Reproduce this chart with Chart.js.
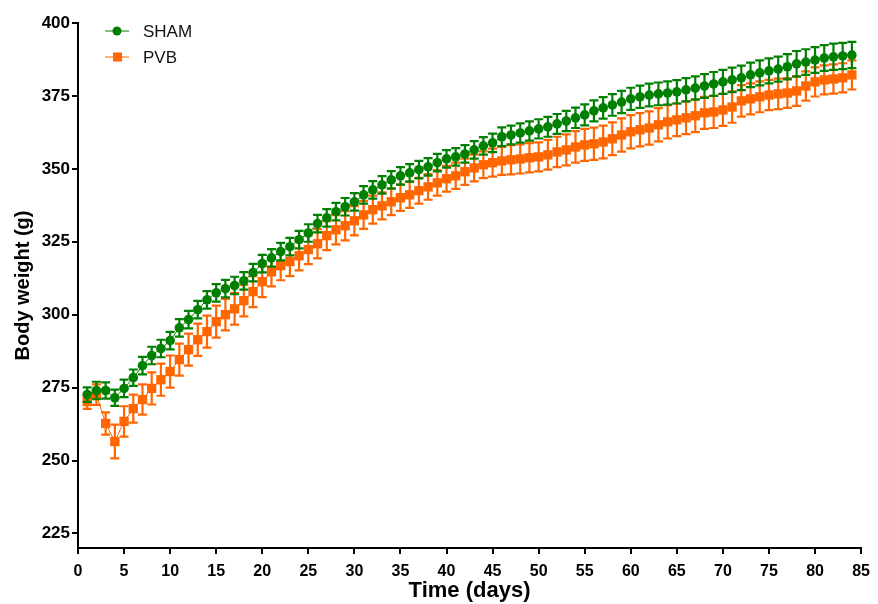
<!DOCTYPE html>
<html>
<head>
<meta charset="utf-8">
<script src="https://cdn.jsdelivr.net/npm/chart.js@4.4.1/dist/chart.umd.min.js"></script>
<style>
  html, body { margin: 0; padding: 0; background: #fff; }
  #wrap { position: relative; width: 878px; height: 604px; }
</style>
</head>
<body>
<div id="wrap"><canvas id="mycanvas" width="878" height="604"></canvas></div>
<script>
// days of measurement
var days = [1,2,3,4,5,6,7,8,9,10,11,12,13,14,15,16,17,18,19,20,
	21,22,23,24,25,26,27,28,29,30,31,32,33,34,35,36,37,38,39,40,
	41,42,43,44,45,46,47,48,49,50,51,52,53,54,55,56,57,58,59,60,
	61,62,63,64,65,66,67,68,69,70,71,72,73,74,75,76,77,78,79,80,
	81,82,83,84];

var shamMean = [272.6,274,274,271.5,274.7,278.4,282.5,286,288.4,291.1,
	295.5,298.3,301.7,305.1,307.5,308.9,310,311.6,314.4,317.5,
	319.5,321.6,323.3,325.7,328,331.2,333.2,335.3,337,338.7,
	341.1,342.8,344.5,346.2,347.6,348.6,349.7,350.7,352.1,353.4,
	354.1,355.1,356.5,357.9,358.9,361,361.6,362.3,363,363.7,
	364.4,365.4,366.4,367.5,368.5,369.9,370.9,371.9,372.9,374,
	374.7,375.3,375.7,376,376.4,377.1,377.7,378.4,379.1,379.8,
	380.5,381.2,382.2,382.9,383.6,384.2,385,386,386.6,387.3,
	388,388.4,388.7,389];

var shamErr = [2.5,3,2.8,2.8,3,2.8,3,3,3,3,
	3,3,3,3,3,3,3,3,3,3,
	3,3,3,3,3,3,3,3,3,3,
	3,3,3,3,3,3,3,3,3,3,
	3,3,3,3,3.2,3.2,3.2,3.3,3.3,3.3,
	3.4,3.4,3.5,3.5,3.6,3.6,3.7,3.7,3.8,3.8,
	3.8,3.9,3.9,4,4,4,4,4.1,4.1,4.1,
	4.2,4.2,4.2,4.3,4.3,4.3,4.3,4.4,4.4,4.4,
	4.4,4.5,4.5,4.5];

var pvbMean = [270.2,272.6,262.7,256.5,263.4,267.8,270.9,274.7,277.7,280.5,
	284.6,288,291.4,294.2,297.6,300,302,304.8,307.9,311.3,
	314.7,316.8,318.2,320.2,322.3,324.3,327.1,329.1,330.5,332.2,
	334.2,336,337.3,338.7,340.1,341.1,342.5,343.8,345.2,346.6,
	347.6,349,350.3,351.4,352.1,352.7,353.1,353.4,353.8,354.1,
	354.8,355.8,356.5,357.5,358.2,358.6,359.2,360.3,361.6,362.7,
	363.4,364,365.1,366.1,366.8,367.5,368.2,369.2,369.5,370.2,
	371.2,373.3,374,374.7,375.3,375.7,376,376.7,378.4,379.8,
	380.5,380.8,381.2,382.2];

var pvbErr = [2.5,3.5,3.8,5.8,5.2,4.8,5.2,5.5,5.5,5.5,
	5.5,5.5,5.5,5.5,5.5,5.4,5.4,5.4,5.3,5.3,
	5,5,5,5,5,5,5,5,5,5,
	4.8,4.8,4.6,4.6,4.5,4.5,4.4,4.4,4.4,4.4,
	4.5,4.5,4.6,4.6,4.8,4.8,5,5,5,5,
	5.1,5.2,5.3,5.4,5.5,5.5,5.6,5.6,5.7,5.7,
	5.7,5.7,5.7,5.7,5.6,5.6,5.6,5.5,5.5,5.5,
	5.4,5.4,5.3,5.3,5.2,5.2,5.1,5.1,5,5,
	5,5,5,5];

var yTicks = [225,250,275,300,325,350,375,400];

var GREEN = '#008000';
var ORANGE = '#ff6600';
var FONT = 'Liberation Sans, Arial, Helvetica, sans-serif';

function toPoints(xs, ys) {
	var out = [];
	for (var i = 0; i < xs.length; i++) {
		out.push({x: xs[i], y: ys[i]});
	}
	return out;
}

// draws SEM bars under each dataset's markers
var errorBars = {
	id: 'errorBars',
	beforeDatasetDraw: function(chart, args) {
		var ds = chart.data.datasets[args.index];
		if (!ds.errors) return;
		var ctx = chart.ctx;
		var ys = chart.scales.y;
		var meta = args.meta;
		ctx.save();
		ctx.strokeStyle = ds.borderColor;
		ctx.lineWidth = 2.2;
		for (var i = 0; i < meta.data.length; i++) {
			var p = meta.data[i];
			var v = ds.data[i].y;
			var top = ys.getPixelForValue(v + ds.errors[i]);
			var bot = ys.getPixelForValue(v - ds.errors[i]);
			ctx.beginPath();
			ctx.moveTo(p.x, top);
			ctx.lineTo(p.x, bot);
			ctx.moveTo(p.x - 4.5, top);
			ctx.lineTo(p.x + 4.5, top);
			ctx.moveTo(p.x - 4.5, bot);
			ctx.lineTo(p.x + 4.5, bot);
			ctx.stroke();
		}
		ctx.restore();
	}
};

// legend in the upper left of the plot
var cornerLegend = {
	id: 'cornerLegend',
	afterDraw: function(chart) {
		var ctx = chart.ctx;
		var items = chart.data.datasets;
		ctx.save();
		for (var i = 0; i < items.length; i++) {
			var y = 31 + i * 26;
			ctx.strokeStyle = items[i].borderColor;
			ctx.lineWidth = 1;
			ctx.beginPath();
			ctx.moveTo(105, y);
			ctx.lineTo(129, y);
			ctx.stroke();
			ctx.fillStyle = items[i].borderColor;
			if (items[i].pointStyle === 'rect') {
				ctx.fillRect(113, y - 4.5, 9, 9);
			} else {
				ctx.beginPath();
				ctx.arc(117, y, 4.5, 0, Math.PI * 2);
				ctx.fill();
			}
			ctx.fillStyle = '#111';
			ctx.font = '17px ' + FONT;
			ctx.textBaseline = 'middle';
			ctx.fillText(items[i].label, 143, y + 1);
		}
		ctx.restore();
	}
};

var chartdata = {
	datasets: [
		{
			label: 'SHAM',
			data: toPoints(days, shamMean),
			errors: shamErr,
			borderColor: GREEN,
			backgroundColor: GREEN,
			borderWidth: 1,
			pointStyle: 'circle',
			pointRadius: 4.8,
			pointBorderWidth: 0,
			pointHoverRadius: 4.8
		},
		{
			label: 'PVB',
			data: toPoints(days, pvbMean),
			errors: pvbErr,
			borderColor: ORANGE,
			backgroundColor: ORANGE,
			borderWidth: 1,
			pointStyle: 'rect',
			pointRadius: 6.6,
			pointBorderWidth: 0,
			pointHoverRadius: 6.6
		}
	]
};

var ctx = document.getElementById('mycanvas');

var Graph = new Chart(ctx, {
	type: 'line',
	data: chartdata,
	plugins: [errorBars, cornerLegend],
	options: {
		responsive: false,
		animation: false,
		events: [],
		layout: { padding: { top: 23, right: 16, left: 0, bottom: 0 } },
		plugins: {
			legend: { display: false },
			tooltip: { enabled: false }
		},
		scales: {
			x: {
				type: 'linear',
				min: 0,
				max: 85,
				afterFit: function(scale) { scale.height = 56; },
				ticks: {
					stepSize: 5,
					color: '#000',
					padding: 8,
					maxRotation: 0,
					font: { family: FONT, size: 16, weight: 'bold' }
				},
				grid: { drawOnChartArea: false, drawTicks: true, tickLength: 6, color: '#000', lineWidth: 2 },
				border: { color: '#000', width: 2 },
				title: {
					display: true,
					text: 'Time (days)',
					color: '#000',
					padding: { top: 0, bottom: 0 },
					font: { family: FONT, size: 22, weight: 'bold' }
				}
			},
			y: {
				min: 220,
				max: 400,
				afterFit: function(scale) { scale.width = 78; },
				afterBuildTicks: function(scale) {
					scale.ticks = yTicks.map(function(v) { return {value: v}; });
				},
				ticks: {
					color: '#000',
					padding: 2,
					font: { family: FONT, size: 17, weight: 'bold' }
				},
				grid: { drawOnChartArea: false, drawTicks: true, tickLength: 6, color: '#000', lineWidth: 2 },
				border: { color: '#000', width: 2 },
				title: {
					display: true,
					text: 'Body weight (g)',
					color: '#000',
					padding: { top: 11, bottom: 0 },
					font: { family: FONT, size: 20, weight: 'bold' }
				}
			}
		}
	}
});
</script>
</body>
</html>
